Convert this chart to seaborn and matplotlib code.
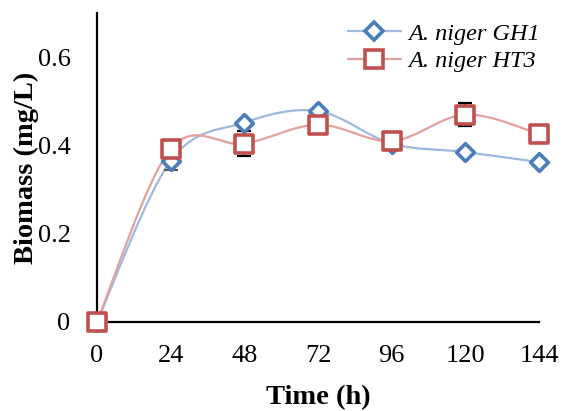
import numpy as np
import pandas as pd
import matplotlib
matplotlib.use("Agg")
import matplotlib.pyplot as plt
from matplotlib.path import Path
from matplotlib.patches import PathPatch
from matplotlib.lines import Line2D
import seaborn as sns

time_h = [0, 24, 48, 72, 96, 120, 144]
gh1 = [0.0, 0.365, 0.452, 0.478, 0.404, 0.385, 0.362]
gh1_err = [0.0, 0.020, 0.0, 0.0, 0.0, 0.0, 0.0]
ht3 = [0.0, 0.392, 0.404, 0.447, 0.410, 0.470, 0.426]
ht3_err = [0.0, 0.0, 0.028, 0.0, 0.0, 0.026, 0.0]
series_names = ["A. niger GH1", "A. niger HT3"]

sns.set_theme(style="white")
plt.rcParams['font.family'] = ['Liberation Serif', 'DejaVu Serif']

fig = plt.figure(figsize=(5.64, 4.11), dpi=100)
ax = fig.add_axes([0.172, 0.217, 0.784, 0.751])

line_cols = ["#9DB9DE", "#E3A09E"]
mark_cols = ["#4A7EBB", "#C0504D"]
err_cols = ["#555555", "black"]
markers = ["D", "s"]
msizes = [9, 12.5]


def smooth_path(xs, ys):
    pts = np.column_stack([xs, ys]).astype(float)
    n = len(pts)
    verts = [pts[0]]
    codes = [Path.MOVETO]
    for i in range(n - 1):
        p0 = pts[i - 1] if i > 0 else pts[i]
        p1 = pts[i]
        p2 = pts[i + 1]
        p3 = pts[i + 2] if i + 2 < n else pts[i + 1]
        c1 = p1 + (p2 - p0) / 6.0
        c2 = p2 - (p3 - p1) / 6.0
        verts += [c1, c2, p2]
        codes += [Path.CURVE4] * 3
    return Path(verts, codes)


df = pd.DataFrame({
    "time": time_h * 2,
    "value": gh1 + ht3,
    "err": gh1_err + ht3_err,
    "series": [series_names[0]] * len(time_h) + [series_names[1]] * len(time_h),
})

handles = []
for k, name in enumerate(series_names):
    sub = df[df["series"] == name]
    ax.add_patch(PathPatch(smooth_path(sub["time"].values, sub["value"].values),
                           facecolor="none", edgecolor=line_cols[k], lw=1.6,
                           zorder=2, clip_on=False))
    e = sub[sub["err"] > 0]
    if len(e):
        ax.errorbar(e["time"], e["value"], yerr=e["err"], fmt="none",
                    ecolor=err_cols[k], elinewidth=1.3, capsize=5, capthick=1.6, zorder=3)
    sns.scatterplot(data=sub, x="time", y="value", ax=ax, marker=markers[k],
                    s=msizes[k] ** 2, facecolor="white", edgecolor=mark_cols[k],
                    linewidth=2.6, zorder=4, clip_on=False, legend=False)
    handles.append(Line2D([], [], color=line_cols[k], lw=1.6, marker=markers[k],
                          markersize=msizes[k],
                          markerfacecolor="white", markeredgecolor=mark_cols[k],
                          markeredgewidth=2.6))

ax.set_xlim(0, 144)
ax.set_ylim(0, 0.7)
ax.set_xticks(time_h)
ax.set_xticklabels([str(t) for t in time_h])
ax.set_yticks([0, 0.2, 0.4, 0.6])
ax.set_yticklabels(["0", "0.2", "0.4", "0.6"])
ax.tick_params(axis="both", length=0, labelsize=19, colors="black")
ax.tick_params(axis="x", pad=17)
ax.tick_params(axis="y", pad=19)

for s in ["top", "right"]:
    ax.spines[s].set_visible(False)
for s in ["left", "bottom"]:
    ax.spines[s].set_color("black")
    ax.spines[s].set_linewidth(1.6)

ax.set_xlabel("Time (h)", fontsize=20.5, fontweight="bold", color="black")
ax.set_ylabel("Biomass (mg/L)", fontsize=20.5, fontweight="bold", color="black")
ax.xaxis.set_label_coords(0.5, -0.205)
ax.yaxis.set_label_coords(-0.131, 0.5)

leg = ax.legend(handles, series_names, loc="upper left",
                bbox_to_anchor=(0.545, 1.0), frameon=False,
                prop={"family": "Liberation Serif", "style": "italic", "size": 17.5},
                handlelength=2.2, handletextpad=0.3, labelspacing=0.22,
                borderaxespad=0.0)
for t in leg.get_texts():
    t.set_color("black")

fig.savefig("out.png", dpi=100)
